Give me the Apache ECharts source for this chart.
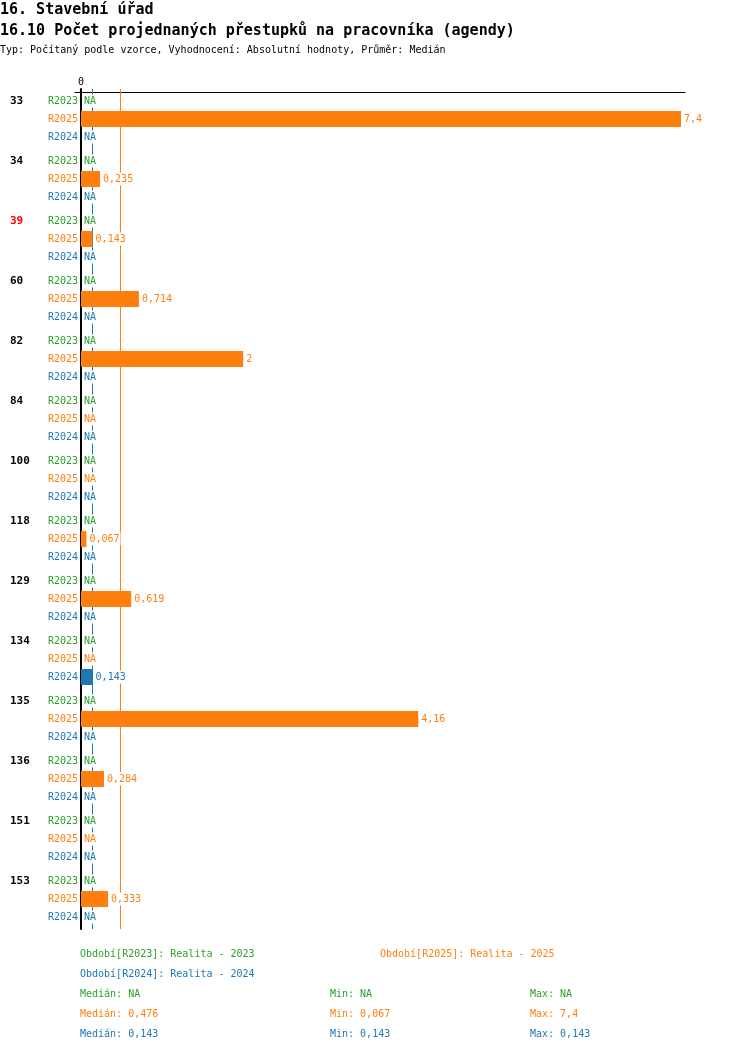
<!DOCTYPE html>
<html lang="cs">
<head>
    <meta charset="UTF-8">
    <title>16.10 Počet projednaných přestupků na pracovníka</title>
    <script src="https://cdn.jsdelivr.net/npm/echarts@6/dist/echarts.min.js"></script>
</head>
<body style="margin: 0; background: #fff">
<div id="chart" style="width: 750px; height: 1052px"></div>

<script>
    // hodnoty vyctene z obrazku, null = NA
    let groups = ['33', '34', '39', '60', '82', '84', '100', '118', '129', '134', '135', '136', '151', '153'];
    let redGroups = ['39'];
    let r2023 = [null, null, null, null, null, null, null, null, null, null, null, null, null, null];
    let r2025 = [7.4, 0.235, 0.143, 0.714, 2, null, null, 0.067, 0.619, null, 4.16, 0.284, null, 0.333];
    let r2024 = [null, null, null, null, null, null, null, null, null, 0.143, null, null, null, null];

    let periods = ['R2023', 'R2025', 'R2024'];
    let periodNames = ['Realita - 2023', 'Realita - 2025', 'Realita - 2024'];
    let colors = ['#2ca02c', '#ff7f0e', '#1f77b4'];
    let medians = [null, 0.476, 0.143];
    let mins = [null, 0.067, 0.143];
    let maxs = [null, 7.4, 0.143];

    const FONT = '"DejaVu Sans Mono", "Liberation Mono", monospace';

    function fmt(v) {
        if (v === null || v === undefined) return 'NA';
        return String(v).replace('.', ',');
    }

    function toData(arr) {
        return arr.map(function (v) {
            return v === null ? {value: 0, na: true} : {value: v, na: false};
        });
    }

    function makeSeries(idx, arr) {
        return {
            name: periods[idx],
            type: 'bar',
            z: 3,
            barWidth: 16,
            barGap: '12.5%',
            data: toData(arr),
            itemStyle: {color: colors[idx]},
            label: {
                show: true,
                position: 'right',
                distance: 2,
                color: colors[idx],
                fontFamily: FONT,
                fontSize: 10,
                lineHeight: 11,
                backgroundColor: '#fff',
                padding: [1, 1],
                formatter: function (p) { return p.data.na ? 'NA' : fmt(p.data.value); }
            }
        };
    }

    let medianLines = [];
    medians.forEach(function (m, i) {
        if (m !== null) {
            medianLines.push({xAxis: m, lineStyle: {color: colors[i], width: 1, type: 'solid'}});
        }
    });

    // paticka s legendou a statistikami
    let footer = [];
    function footText(x, y, txt, col) {
        footer.push({
            type: 'text', left: x, top: y - 5,
            style: {text: txt, fill: col, font: '10px ' + FONT}
        });
    }
    footText(80, 954, 'Období[' + periods[0] + ']: ' + periodNames[0], colors[0]);
    footText(380, 954, 'Období[' + periods[1] + ']: ' + periodNames[1], colors[1]);
    footText(80, 974, 'Období[' + periods[2] + ']: ' + periodNames[2], colors[2]);
    for (let i = 0; i < 3; i++) {
        let y = 994 + i * 20;
        footText(80, y, 'Medián: ' + fmt(medians[i]), colors[i]);
        footText(330, y, 'Min: ' + fmt(mins[i]), colors[i]);
        footText(530, y, 'Max: ' + fmt(maxs[i]), colors[i]);
    }

    let myChart = echarts.init(document.getElementById('chart'));
    let option = {
        animation: false,
        title: [
            {text: '16. Stavební úřad', left: 0, top: 3, padding: 0,
                textStyle: {fontFamily: FONT, fontSize: 15, fontWeight: 'bold', color: '#000'}},
            {text: '16.10 Počet projednaných přestupků na pracovníka (agendy)', left: 0, top: 24, padding: 0,
                textStyle: {fontFamily: FONT, fontSize: 15, fontWeight: 'bold', color: '#000'}},
            {text: 'Typ: Počítaný podle vzorce, Vyhodnocení: Absolutní hodnoty, Průměr: Medián', left: 0, top: 45, padding: 0,
                textStyle: {fontFamily: FONT, fontSize: 10, fontWeight: 'normal', color: '#000'}}
        ],
        grid: {left: 75, width: 610, top: 89, height: 840, containLabel: false},
        xAxis: {
            type: 'value',
            position: 'top',
            min: -0.074,
            max: 7.449,
            offset: -3,
            axisLine: {show: true, lineStyle: {color: '#000', width: 1}},
            axisTick: {show: false},
            splitLine: {show: false},
            axisLabel: {
                customValues: [0],
                margin: 5,
                color: '#000',
                fontFamily: FONT,
                fontSize: 10,
                formatter: function (v) { return fmt(v); }
            }
        },
        yAxis: {
            type: 'category',
            inverse: true,
            data: groups,
            axisLine: {show: true, onZero: true, lineStyle: {color: '#000', width: 2}},
            axisTick: {show: false},
            splitLine: {show: false},
            axisLabel: {
                margin: -3,
                interval: 0,
                formatter: function (v) {
                    let g = redGroups.indexOf(v) >= 0 ? 'r' : 'g';
                    return '{' + g + '|' + v + '}{a|' + periods[0] + '}\n' +
                        '{g| }{b|' + periods[1] + '}\n' +
                        '{g| }{c|' + periods[2] + '}';
                },
                rich: {
                    g: {width: 38, align: 'left', fontFamily: FONT, fontSize: 11, fontWeight: 'bold', color: '#000', lineHeight: 18},
                    r: {width: 38, align: 'left', fontFamily: FONT, fontSize: 11, fontWeight: 'bold', color: '#ff0000', lineHeight: 18},
                    a: {width: 30, align: 'right', fontFamily: FONT, fontSize: 10, color: colors[0], lineHeight: 18},
                    b: {width: 30, align: 'right', fontFamily: FONT, fontSize: 10, color: colors[1], lineHeight: 18},
                    c: {width: 30, align: 'right', fontFamily: FONT, fontSize: 10, color: colors[2], lineHeight: 18}
                }
            }
        },
        series: [
            makeSeries(0, r2023),
            makeSeries(1, r2025),
            makeSeries(2, r2024),
            {
                name: 'median',
                type: 'line',
                z: 1,
                data: [],
                markLine: {
                    z: 1,
                    silent: true,
                    symbol: 'none',
                    label: {show: false},
                    data: medianLines
                }
            }
        ],
        graphic: footer
    };
    myChart.setOption(option);
</script>
</body>
</html>
